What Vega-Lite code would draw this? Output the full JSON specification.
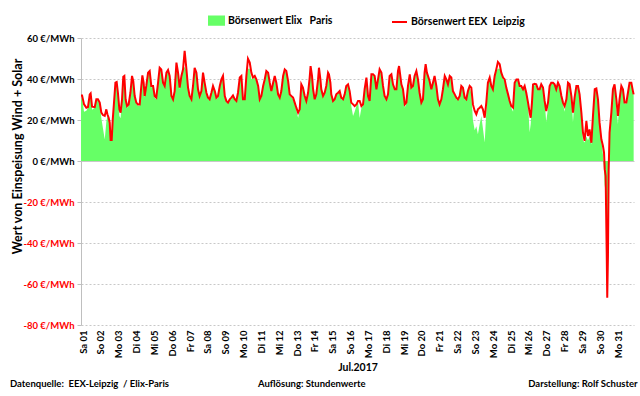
{
  "$schema": "https://vega.github.io/schema/vega-lite/v6.json",
  "width": 553,
  "height": 287,
  "autosize": {"type": "none"},
  "padding": {"left": 81, "top": 38, "right": 6, "bottom": 71},
  "background": "white",
  "config": {"view": {"stroke": null}, "font": "Lato"},
  "datasets": {
    "prices": [
      {"t":1.00,"eex":32,"elix":30},{"t":1.06,"eex":32.0,"elix":31},{"t":1.17,"eex":27.6,"elix":24},{"t":1.30,"eex":26.0,"elix":24.5},{"t":1.39,"eex":26.3,"elix":26},{"t":1.49,"eex":32.5,"elix":32.5},{"t":1.54,"eex":33.0,"elix":33},{"t":1.62,"eex":26.5,"elix":25},{"t":1.77,"eex":26.3,"elix":26},{"t":1.86,"eex":30.1,"elix":30},{"t":1.95,"eex":30.1,"elix":30},
      {"t":2.05,"eex":28.5,"elix":28},{"t":2.14,"eex":23.6,"elix":21},{"t":2.23,"eex":22.4,"elix":16},{"t":2.33,"eex":22.0,"elix":10.5},{"t":2.42,"eex":25.2,"elix":19},{"t":2.48,"eex":22.8,"elix":22},{"t":2.55,"eex":21.1,"elix":20},{"t":2.61,"eex":18.7,"elix":18},{"t":2.66,"eex":10.2,"elix":10.5},{"t":2.72,"eex":10.2,"elix":10.5},{"t":2.78,"eex":20.3,"elix":20},{"t":2.85,"eex":28.5,"elix":28},{"t":2.93,"eex":38.2,"elix":38},
      {"t":3.00,"eex":38.5,"elix":38},{"t":3.07,"eex":33.3,"elix":33},{"t":3.15,"eex":25.2,"elix":22},{"t":3.22,"eex":23.6,"elix":21},{"t":3.30,"eex":30.1,"elix":30},{"t":3.37,"eex":41.1,"elix":40},{"t":3.43,"eex":41.5,"elix":41},{"t":3.50,"eex":30.1,"elix":30},{"t":3.58,"eex":26.8,"elix":26},{"t":3.67,"eex":27.6,"elix":27},{"t":3.77,"eex":33.3,"elix":33},{"t":3.86,"eex":41.5,"elix":41},{"t":3.93,"eex":39.0,"elix":38},
      {"t":4.01,"eex":31.7,"elix":31},{"t":4.10,"eex":28.5,"elix":28},{"t":4.20,"eex":27.6,"elix":27},{"t":4.29,"eex":27.6,"elix":27},{"t":4.38,"eex":36.6,"elix":36},{"t":4.44,"eex":41.8,"elix":41},{"t":4.51,"eex":38.2,"elix":38},{"t":4.57,"eex":31.7,"elix":31},{"t":4.66,"eex":36.6,"elix":36},{"t":4.76,"eex":43.1,"elix":43},{"t":4.85,"eex":43.9,"elix":43},{"t":4.94,"eex":36.6,"elix":36},
      {"t":5.04,"eex":36.6,"elix":36},{"t":5.13,"eex":31.7,"elix":31},{"t":5.22,"eex":30.9,"elix":30},{"t":5.32,"eex":38.2,"elix":38},{"t":5.41,"eex":45.5,"elix":45},{"t":5.50,"eex":44.7,"elix":44},{"t":5.60,"eex":38.2,"elix":38},{"t":5.69,"eex":36.6,"elix":36},{"t":5.79,"eex":43.1,"elix":43},{"t":5.88,"eex":44.4,"elix":44},{"t":5.97,"eex":41.5,"elix":41},
      {"t":6.07,"eex":31.7,"elix":31},{"t":6.16,"eex":30.1,"elix":30},{"t":6.25,"eex":34.1,"elix":34},{"t":6.35,"eex":48.0,"elix":45},{"t":6.44,"eex":43.1,"elix":43},{"t":6.53,"eex":35.8,"elix":35},{"t":6.63,"eex":41.5,"elix":41},{"t":6.72,"eex":44.7,"elix":44},{"t":6.81,"eex":53.7,"elix":46},{"t":6.91,"eex":44.7,"elix":44},
      {"t":7.00,"eex":35.8,"elix":35},{"t":7.09,"eex":31.7,"elix":31},{"t":7.19,"eex":30.1,"elix":30},{"t":7.28,"eex":36.6,"elix":36},{"t":7.37,"eex":45.5,"elix":45},{"t":7.47,"eex":43.1,"elix":43},{"t":7.56,"eex":35.0,"elix":35},{"t":7.65,"eex":31.7,"elix":31},{"t":7.75,"eex":34.1,"elix":34},{"t":7.84,"eex":43.1,"elix":43},{"t":7.93,"eex":38.2,"elix":38},
      {"t":8.03,"eex":33.3,"elix":33},{"t":8.12,"eex":30.9,"elix":30},{"t":8.21,"eex":30.1,"elix":30},{"t":8.31,"eex":33.3,"elix":33},{"t":8.40,"eex":36.6,"elix":36},{"t":8.50,"eex":34.1,"elix":34},{"t":8.59,"eex":30.9,"elix":30},{"t":8.68,"eex":31.7,"elix":31},{"t":8.78,"eex":36.6,"elix":36},{"t":8.87,"eex":39.8,"elix":39},{"t":8.96,"eex":41.5,"elix":41},
      {"t":9.06,"eex":31.7,"elix":31},{"t":9.15,"eex":29.3,"elix":29},{"t":9.24,"eex":28.5,"elix":28},{"t":9.34,"eex":30.1,"elix":30},{"t":9.43,"eex":30.9,"elix":30},{"t":9.52,"eex":32.0,"elix":32},{"t":9.62,"eex":30.1,"elix":30},{"t":9.71,"eex":29.3,"elix":29},{"t":9.80,"eex":33.3,"elix":33},{"t":9.90,"eex":40.7,"elix":40},{"t":9.99,"eex":41.5,"elix":41},
      {"t":10.08,"eex":30.1,"elix":30},{"t":10.18,"eex":30.1,"elix":30},{"t":10.27,"eex":41.5,"elix":41},{"t":10.36,"eex":49.9,"elix":45},{"t":10.46,"eex":48.0,"elix":45},{"t":10.55,"eex":43.1,"elix":40},{"t":10.64,"eex":40.7,"elix":40},{"t":10.74,"eex":41.5,"elix":41},{"t":10.83,"eex":39.8,"elix":39},{"t":10.93,"eex":36.6,"elix":36},
      {"t":11.02,"eex":30.1,"elix":30},{"t":11.11,"eex":31.7,"elix":31},{"t":11.21,"eex":36.6,"elix":36},{"t":11.30,"eex":39.8,"elix":39},{"t":11.39,"eex":43.9,"elix":43},{"t":11.49,"eex":43.1,"elix":43},{"t":11.58,"eex":38.2,"elix":38},{"t":11.67,"eex":34.1,"elix":34},{"t":11.77,"eex":38.2,"elix":38},{"t":11.86,"eex":41.5,"elix":41},{"t":11.95,"eex":38.2,"elix":38},
      {"t":12.05,"eex":32.5,"elix":32},{"t":12.14,"eex":30.9,"elix":30},{"t":12.23,"eex":34.1,"elix":34},{"t":12.33,"eex":41.5,"elix":41},{"t":12.42,"eex":44.7,"elix":44},{"t":12.51,"eex":43.9,"elix":43},{"t":12.61,"eex":39.0,"elix":38},{"t":12.70,"eex":32.5,"elix":32},{"t":12.79,"eex":31.7,"elix":31},{"t":12.89,"eex":30.9,"elix":30},{"t":12.98,"eex":28.5,"elix":28},
      {"t":13.07,"eex":26.0,"elix":25},{"t":13.17,"eex":23.6,"elix":21},{"t":13.26,"eex":25.2,"elix":25},{"t":13.35,"eex":37.4,"elix":37},{"t":13.44,"eex":35.8,"elix":35},{"t":13.54,"eex":31.7,"elix":31},{"t":13.63,"eex":29.3,"elix":29},{"t":13.73,"eex":33.3,"elix":33},{"t":13.82,"eex":40.7,"elix":40},{"t":13.87,"eex":46.3,"elix":44},{"t":13.95,"eex":41.5,"elix":41},
      {"t":14.01,"eex":35.0,"elix":35},{"t":14.10,"eex":30.1,"elix":30},{"t":14.19,"eex":32.5,"elix":32},{"t":14.29,"eex":39.8,"elix":39},{"t":14.34,"eex":45.5,"elix":44},{"t":14.42,"eex":39.8,"elix":39},{"t":14.47,"eex":35.0,"elix":35},{"t":14.57,"eex":31.7,"elix":31},{"t":14.66,"eex":33.3,"elix":33},{"t":14.75,"eex":36.6,"elix":36},{"t":14.85,"eex":43.1,"elix":43},{"t":14.90,"eex":42.3,"elix":42},{"t":14.98,"eex":38.2,"elix":38},
      {"t":15.03,"eex":32.5,"elix":32},{"t":15.13,"eex":29.3,"elix":29},{"t":15.22,"eex":30.1,"elix":30},{"t":15.31,"eex":32.5,"elix":32},{"t":15.41,"eex":33.3,"elix":33},{"t":15.50,"eex":34.1,"elix":34},{"t":15.59,"eex":30.9,"elix":30},{"t":15.69,"eex":30.1,"elix":30},{"t":15.78,"eex":32.5,"elix":32},{"t":15.87,"eex":36.6,"elix":36},{"t":15.97,"eex":37.4,"elix":37},
      {"t":16.06,"eex":34.1,"elix":34},{"t":16.15,"eex":28.5,"elix":27},{"t":16.25,"eex":27.6,"elix":22},{"t":16.34,"eex":26.8,"elix":24},{"t":16.44,"eex":27.6,"elix":27},{"t":16.53,"eex":29.3,"elix":29},{"t":16.62,"eex":29.3,"elix":21},{"t":16.72,"eex":26.8,"elix":26},{"t":16.81,"eex":27.6,"elix":27},{"t":16.90,"eex":35.0,"elix":35},
      {"t":17.00,"eex":40.7,"elix":40},{"t":17.09,"eex":31.7,"elix":31},{"t":17.18,"eex":29.3,"elix":29},{"t":17.28,"eex":42.3,"elix":42},{"t":17.37,"eex":42.3,"elix":42},{"t":17.46,"eex":41.5,"elix":41},{"t":17.56,"eex":35.0,"elix":35},{"t":17.65,"eex":39.8,"elix":39},{"t":17.74,"eex":44.7,"elix":44},{"t":17.84,"eex":43.1,"elix":43},{"t":17.93,"eex":36.6,"elix":36},
      {"t":18.02,"eex":31.7,"elix":31},{"t":18.12,"eex":30.1,"elix":30},{"t":18.21,"eex":32.5,"elix":32},{"t":18.30,"eex":41.5,"elix":41},{"t":18.40,"eex":42.3,"elix":42},{"t":18.49,"eex":37.4,"elix":37},{"t":18.59,"eex":35.0,"elix":35},{"t":18.68,"eex":35.0,"elix":35},{"t":18.77,"eex":43.9,"elix":43},{"t":18.83,"eex":46.3,"elix":44},{"t":18.90,"eex":41.5,"elix":41},{"t":18.96,"eex":37.4,"elix":37},
      {"t":19.05,"eex":35.0,"elix":35},{"t":19.15,"eex":27.6,"elix":26},{"t":19.24,"eex":28.5,"elix":28},{"t":19.33,"eex":36.6,"elix":36},{"t":19.43,"eex":42.3,"elix":42},{"t":19.52,"eex":35.8,"elix":35},{"t":19.61,"eex":36.6,"elix":36},{"t":19.70,"eex":41.5,"elix":41},{"t":19.80,"eex":43.9,"elix":43},{"t":19.89,"eex":39.8,"elix":39},{"t":19.98,"eex":33.3,"elix":33},
      {"t":20.08,"eex":28.5,"elix":28},{"t":20.17,"eex":30.1,"elix":30},{"t":20.26,"eex":43.1,"elix":43},{"t":20.32,"eex":47.2,"elix":44},{"t":20.39,"eex":43.1,"elix":43},{"t":20.45,"eex":41.5,"elix":41},{"t":20.54,"eex":39.0,"elix":38},{"t":20.64,"eex":35.0,"elix":35},{"t":20.73,"eex":38.2,"elix":38},{"t":20.82,"eex":41.5,"elix":41},{"t":20.92,"eex":36.6,"elix":36},
      {"t":21.01,"eex":30.1,"elix":30},{"t":21.10,"eex":27.6,"elix":27},{"t":21.20,"eex":30.1,"elix":30},{"t":21.29,"eex":35.0,"elix":35},{"t":21.39,"eex":41.5,"elix":41},{"t":21.48,"eex":39.8,"elix":39},{"t":21.57,"eex":37.4,"elix":37},{"t":21.67,"eex":41.5,"elix":41},{"t":21.76,"eex":40.7,"elix":40},{"t":21.85,"eex":34.1,"elix":34},{"t":21.95,"eex":32.5,"elix":32},
      {"t":22.04,"eex":30.9,"elix":30},{"t":22.13,"eex":30.1,"elix":30},{"t":22.23,"eex":31.7,"elix":31},{"t":22.32,"eex":36.6,"elix":36},{"t":22.41,"eex":35.8,"elix":35},{"t":22.51,"eex":30.9,"elix":30},{"t":22.60,"eex":30.1,"elix":30},{"t":22.69,"eex":34.1,"elix":34},{"t":22.79,"eex":36.6,"elix":36},{"t":22.88,"eex":35.8,"elix":33},{"t":22.97,"eex":27.6,"elix":20},
      {"t":23.07,"eex":24.4,"elix":15},{"t":23.16,"eex":22.8,"elix":17},{"t":23.25,"eex":25.2,"elix":13},{"t":23.35,"eex":26.0,"elix":18},{"t":23.44,"eex":26.8,"elix":22},{"t":23.53,"eex":25.2,"elix":16},{"t":23.63,"eex":21.1,"elix":9},{"t":23.72,"eex":28.5,"elix":24},{"t":23.81,"eex":38.2,"elix":38},{"t":23.91,"eex":40.7,"elix":40},
      {"t":24.00,"eex":36.6,"elix":36},{"t":24.09,"eex":35.0,"elix":35},{"t":24.19,"eex":41.5,"elix":41},{"t":24.28,"eex":44.7,"elix":44},{"t":24.37,"eex":48.3,"elix":45},{"t":24.47,"eex":47.2,"elix":45},{"t":24.56,"eex":43.1,"elix":43},{"t":24.66,"eex":40.7,"elix":40},{"t":24.75,"eex":39.8,"elix":39},{"t":24.84,"eex":35.8,"elix":35},{"t":24.94,"eex":32.5,"elix":32},
      {"t":25.03,"eex":29.3,"elix":29},{"t":25.12,"eex":26.8,"elix":26},{"t":25.22,"eex":26.0,"elix":24},{"t":25.31,"eex":38.2,"elix":38},{"t":25.41,"eex":39.8,"elix":39},{"t":25.50,"eex":39.8,"elix":39},{"t":25.59,"eex":36.6,"elix":36},{"t":25.68,"eex":36.6,"elix":36},{"t":25.78,"eex":35.0,"elix":35},{"t":25.87,"eex":36.6,"elix":36},{"t":25.96,"eex":33.3,"elix":33},
      {"t":26.06,"eex":28.5,"elix":28},{"t":26.15,"eex":23.6,"elix":14},{"t":26.21,"eex":21.1,"elix":18},{"t":26.28,"eex":28.5,"elix":28},{"t":26.34,"eex":37.4,"elix":37},{"t":26.43,"eex":37.7,"elix":37},{"t":26.52,"eex":37.4,"elix":37},{"t":26.62,"eex":35.0,"elix":35},{"t":26.71,"eex":35.0,"elix":35},{"t":26.80,"eex":37.4,"elix":37},{"t":26.90,"eex":35.8,"elix":35},{"t":26.99,"eex":29.3,"elix":29},
      {"t":27.08,"eex":24.4,"elix":19},{"t":27.18,"eex":28.5,"elix":26},{"t":27.27,"eex":36.6,"elix":36},{"t":27.36,"eex":38.2,"elix":38},{"t":27.46,"eex":38.2,"elix":38},{"t":27.55,"eex":37.4,"elix":37},{"t":27.64,"eex":35.0,"elix":35},{"t":27.74,"eex":38.2,"elix":38},{"t":27.83,"eex":36.6,"elix":36},{"t":27.93,"eex":31.7,"elix":31},
      {"t":28.02,"eex":28.5,"elix":28},{"t":28.11,"eex":26.8,"elix":24},{"t":28.21,"eex":30.1,"elix":30},{"t":28.30,"eex":38.2,"elix":38},{"t":28.39,"eex":37.4,"elix":37},{"t":28.49,"eex":31.7,"elix":31},{"t":28.58,"eex":23.6,"elix":19},{"t":28.67,"eex":30.9,"elix":30},{"t":28.77,"eex":36.6,"elix":36},{"t":28.86,"eex":36.6,"elix":36},{"t":28.95,"eex":32.5,"elix":32},
      {"t":29.05,"eex":23.6,"elix":23},{"t":29.14,"eex":13.8,"elix":10},{"t":29.23,"eex":9.8,"elix":9},{"t":29.33,"eex":19.5,"elix":12},{"t":29.42,"eex":12.2,"elix":10},{"t":29.51,"eex":15.4,"elix":12},{"t":29.61,"eex":8.9,"elix":8},{"t":29.70,"eex":22.0,"elix":22},{"t":29.80,"eex":35.0,"elix":35},{"t":29.89,"eex":35.4,"elix":35},{"t":29.98,"eex":30.1,"elix":30},
      {"t":30.07,"eex":18.7,"elix":18},{"t":30.17,"eex":10.6,"elix":10},{"t":30.26,"eex":7.3,"elix":3},{"t":30.32,"eex":4.1,"elix":-5},{"t":30.36,"eex":-4.1,"elix":-13},{"t":30.41,"eex":-7.3,"elix":-8},{"t":30.47,"eex":-44.7,"elix":-44.7},{"t":30.50,"eex":-66.7,"elix":-66.7},{"t":30.54,"eex":-46.3,"elix":-46.3},{"t":30.58,"eex":-4.1,"elix":-10},{"t":30.63,"eex":13.8,"elix":13},{"t":30.73,"eex":23.6,"elix":23},{"t":30.82,"eex":35.0,"elix":35},{"t":30.91,"eex":37.4,"elix":37},
      {"t":31.01,"eex":30.1,"elix":26},{"t":31.10,"eex":22.0,"elix":18},{"t":31.19,"eex":30.1,"elix":30},{"t":31.29,"eex":36.6,"elix":36},{"t":31.38,"eex":35.0,"elix":35},{"t":31.47,"eex":28.5,"elix":28},{"t":31.57,"eex":28.5,"elix":28},{"t":31.66,"eex":33.3,"elix":33},{"t":31.75,"eex":38.2,"elix":38},{"t":31.85,"eex":38.2,"elix":38},{"t":31.94,"eex":34.1,"elix":34},{"t":31.98,"eex":32.5,"elix":32}
    ],
    "footerLeft": [
      {"txt": "Datenquelle:\u00a0\u00a0EEX-Leipzig\u00a0\u00a0/ Elix-Paris", "t": -2.98},
      {"txt": "Auflösung: Stundenwerte", "t": 10.92}
    ],
    "footerRight": [
      {"txt": "Darstellung: Rolf Schuster", "t": 32.2}
    ]
  },
  "encoding": {
    "x": {
      "field": "t", "type": "quantitative",
      "scale": {"domain": [1, 32], "nice": false, "zero": false},
      "axis": {
        "values": [1,2,3,4,5,6,7,8,9,10,11,12,13,14,15,16,17,18,19,20,21,22,23,24,25,26,27,28,29,30,31],
        "labelExpr": "['Sa 01','So 02','Mo 03','Di 04','Mi 05','Do 06','Fr 07','Sa 08','So 09','Mo 10','Di 11','Mi 12','Do 13','Fr 14','Sa 15','So 16','Mo 17','Di 18','Mi 19','Do 20','Fr 21','Sa 22','So 23','Mo 24','Di 25','Mi 26','Do 27','Fr 28','Sa 29','So 30','Mo 31'][datum.value - 1]",
        "labelAngle": 270,
        "labelAlign": "right",
        "labelBaseline": "middle",
        "labelFontSize": 9.5,
        "labelFontWeight": "bold",
        "labelColor": "black",
        "labelPadding": 5,
        "labelOffset": 2,
        "labelOverlap": false,
        "labelFlush": false,
        "labelBound": false,
        "ticks": false,
        "domain": false,
        "grid": false,
        "title": "Jul.2017",
        "titleFontSize": 10.5,
        "titleFontWeight": "bold",
        "titleColor": "black",
        "titlePadding": 5
      }
    }
  },
  "layer": [
    {
      "data": {"name": "prices"},
      "mark": {"type": "area", "interpolate": "linear", "opacity": 1},
      "encoding": {
        "y": {
          "field": "elix", "type": "quantitative",
          "scale": {"domain": [-80, 60], "nice": false},
          "axis": {
            "values": [-80, -60, -40, -20, 0, 20, 40, 60],
            "labelExpr": "datum.value + ' €/MWh'",
            "labelColor": {"condition": {"test": "datum.value < 0", "value": "#FF0000"}, "value": "black"},
            "labelFontSize": 9.5,
            "labelFontWeight": "bold",
            "labelPadding": 3,
            "tickSize": 4,
            "tickColor": "#bfbfbf",
            "domainColor": "#bfbfbf",
            "gridColor": "#c8c8c8",
            "gridDash": {"condition": {"test": "datum.value === 0", "value": []}, "value": [2, 2]},
            "title": "Wert von Einspeisung Wind + Solar",
            "titleFontSize": 12.5,
            "titleFontWeight": "bold",
            "titleColor": "black",
            "titleY": 118,
            "titleX": -57
          }
        },
        "color": {
          "datum": "Börsenwert Elix\u00a0\u00a0\u00a0Paris",
          "scale": {"domain": ["Börsenwert Elix\u00a0\u00a0\u00a0Paris", "Börsenwert EEX\u00a0\u00a0Leipzig"], "range": ["#66FF66", "#FF0000"]},
          "legend": {
            "orient": "none",
            "legendX": 127,
            "legendY": -26,
            "direction": "horizontal",
            "title": null,
            "labelFontSize": 10.5,
            "labelFontWeight": "bold",
            "labelColor": "black",
            "labelOffset": 3,
            "columnPadding": 55,
            "symbolSize": 225,
            "symbolStrokeWidth": 2,
            "encoding": {
              "symbols": {
                "shape": {"condition": {"test": "datum.label === 'Börsenwert EEX\u00a0\u00a0Leipzig'", "value": "stroke"}, "value": "M-1,-0.55L1,-0.55L1,0.55L-1,0.55Z"},
                "fill": {"condition": {"test": "datum.label === 'Börsenwert EEX\u00a0\u00a0Leipzig'", "value": "transparent"}, "value": "#66FF66"},
                "stroke": {"condition": {"test": "datum.label === 'Börsenwert EEX\u00a0\u00a0Leipzig'", "value": "#FF0000"}, "value": "#66FF66"},
                "strokeWidth": {"value": 2}
              }
            }
          }
        }
      }
    },
    {
      "data": {"name": "prices"},
      "mark": {"type": "line", "strokeWidth": 2, "interpolate": "linear"},
      "encoding": {
        "y": {
          "field": "eex", "type": "quantitative",
          "axis": {
            "values": [-80, -60, -40, -20, 0, 20, 40, 60],
            "labelExpr": "datum.value + ' €/MWh'",
            "labelColor": {"condition": {"test": "datum.value < 0", "value": "#FF0000"}, "value": "black"},
            "labelFontSize": 9.5,
            "labelFontWeight": "bold",
            "labelPadding": 3,
            "tickSize": 4,
            "tickColor": "#bfbfbf",
            "domainColor": "#bfbfbf",
            "gridColor": "#c8c8c8",
            "gridDash": {"condition": {"test": "datum.value === 0", "value": []}, "value": [2, 2]},
            "title": "Wert von Einspeisung Wind + Solar",
            "titleFontSize": 12.5,
            "titleFontWeight": "bold",
            "titleColor": "black",
            "titleY": 118,
            "titleX": -57
          }
        },
        "color": {"datum": "Börsenwert EEX\u00a0\u00a0Leipzig"}
      }
    },
    {
      "data": {"name": "footerLeft"},
      "mark": {"type": "text", "align": "left", "baseline": "middle", "fontSize": 9.5, "fontWeight": "bold", "color": "black", "dy": 59},
      "encoding": {
        "y": {"datum": -80},
        "text": {"field": "txt"}
      }
    },
    {
      "data": {"name": "footerRight"},
      "mark": {"type": "text", "align": "right", "baseline": "middle", "fontSize": 9.5, "fontWeight": "bold", "color": "black", "dy": 59},
      "encoding": {
        "y": {"datum": -80},
        "text": {"field": "txt"}
      }
    }
  ]
}
